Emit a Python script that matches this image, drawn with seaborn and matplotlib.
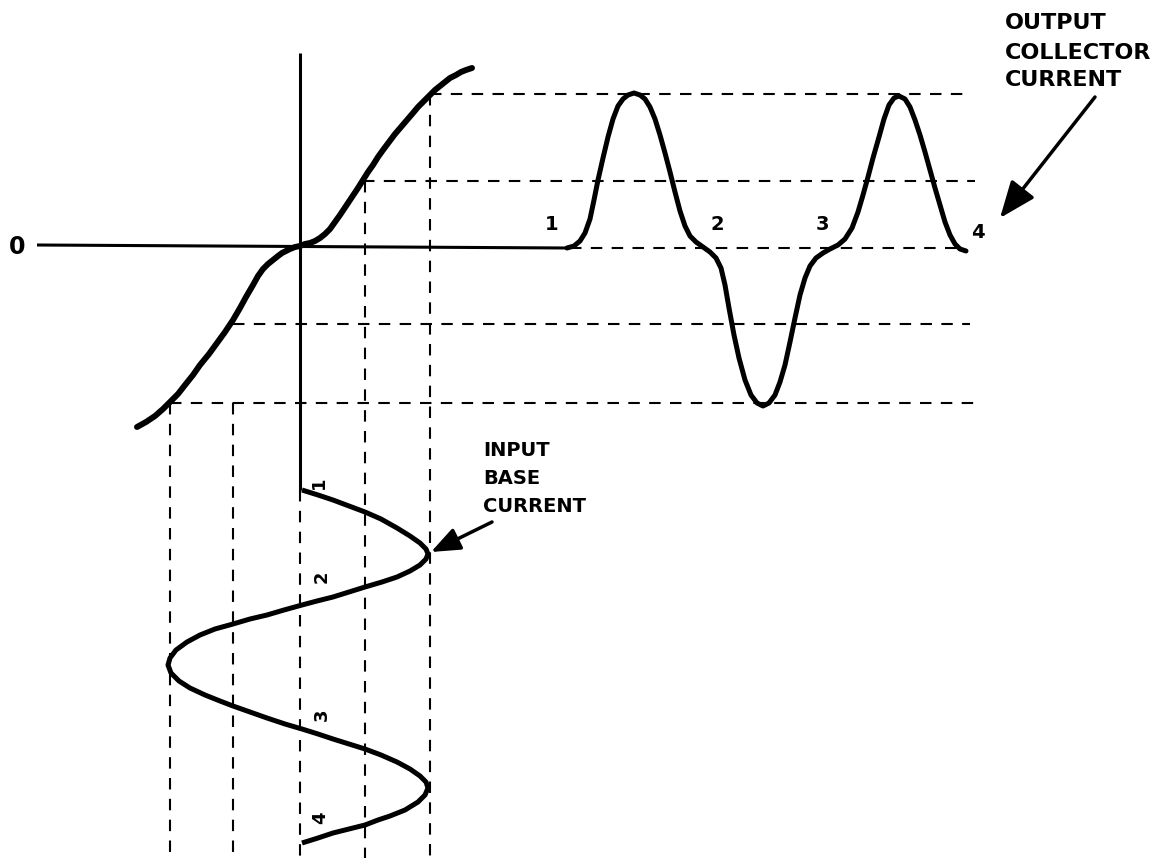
import numpy as np
import pandas as pd
import seaborn as sns
import matplotlib.pyplot as plt

# Curva de transferência (corrente de base -> corrente de coletor)
transfer_x = [137, 146, 155, 163, 170, 178, 185, 193, 200, 209, 217, 225, 233, 240, 246,
              253, 258, 263, 268, 273, 278, 282, 286, 290, 295, 300, 305, 310, 315, 320,
              325, 330, 335, 340, 346, 352, 358, 363, 368, 373, 378, 383, 389, 395, 401,
              407, 413, 418, 424, 430, 435, 440, 445, 450, 456, 461, 466, 472]
transfer_y = [427, 422, 416, 409, 402, 394, 385, 375, 365, 354, 343, 332, 320, 308, 297,
              285, 276, 269, 264, 260, 256, 253, 251, 249, 247, 246, 244, 243, 241, 238,
              234, 229, 222, 215, 206, 197, 188, 180, 172, 165, 157, 150, 142, 134, 127,
              120, 113, 107, 101, 95, 90, 86, 82, 78, 75, 72, 70, 68]

# Corrente de coletor na saída
output_x = [567, 574, 580, 585, 590, 594, 598, 603, 608, 613, 618, 623, 628, 634, 640,
            645, 650, 655, 660, 665, 670, 675, 680, 685, 690, 696, 703, 710, 716, 721,
            725, 729, 734, 739, 745, 751, 757, 763, 769, 775, 780, 785, 790, 795, 800,
            805, 810, 816, 823, 830, 838, 845, 852, 858, 863, 868, 873, 879, 884, 889,
            894, 899, 905, 910, 915, 920, 925, 930, 935, 940, 945, 950, 955, 960, 966]
output_y = [248, 246, 241, 233, 219, 200, 180, 158, 137, 119, 106, 99, 95, 93, 95,
            99, 107, 119, 135, 153, 172, 192, 211, 226, 236, 242, 247, 252, 258, 268,
            285, 308, 335, 358, 380, 395, 403, 406, 403, 395, 382, 365, 342, 318, 295,
            278, 266, 258, 253, 249, 245, 239, 228, 212, 195, 177, 158, 137, 119, 105,
            98, 96, 99, 107, 120, 135, 152, 170, 188, 205, 222, 235, 244, 249, 251]

# Corrente de base na entrada (desenhada para baixo)
input_x = [302, 318, 333, 349, 365, 381, 397, 410, 420, 426, 428, 426, 420, 410, 397,
           382, 365, 349, 333, 317, 302, 284, 267, 250, 233, 215, 200, 187, 176, 170,
           168, 171, 179, 190, 205, 220, 233, 250, 267, 285, 302, 318, 333, 349, 365,
           381, 397, 410, 420, 426, 428, 425, 418, 405, 390, 378, 365, 349, 333, 318, 302]
input_y = [490, 495, 500, 506, 512, 519, 528, 536, 543, 549, 554, 559, 565, 571, 577,
           582, 587, 592, 597, 601, 605, 610, 615, 619, 624, 629, 635, 642, 650, 658,
           665, 673, 681, 688, 695, 701, 706, 712, 718, 724, 729, 734, 739, 744, 749,
           755, 762, 769, 776, 782, 788, 795, 802, 810, 816, 820, 825, 829, 833, 838, 843]

# Linhas de projeção tracejadas
h_levels = [94, 181, 248, 324, 403]
h_starts = [430, 363, 570, 233, 170]
h_ends = [965, 975, 965, 970, 975]
v_levels = [170, 233, 300, 365, 430]
v_starts = [403, 403, 490, 181, 94]
v_bottom = 858

# Rótulos das fases
out_phase = ['1', '2', '3', '4']
out_phase_x = [552, 717, 822, 978]
out_phase_y = [225, 225, 225, 232]
in_phase_x = [319, 322, 322, 320]
in_phase_y = [483, 577, 715, 818]

out_label = ['OUTPUT', 'COLLECTOR', 'CURRENT']
out_label_y = [23, 53, 80]
in_label = ['INPUT', 'BASE', 'CURRENT']
in_label_y = [450, 478, 506]

fig = plt.figure(figsize=(11.6, 8.61), dpi=100)
ax = fig.add_axes([0, 0, 1, 1])

dash = (0, (5.5, 4.5))
for y, x0, x1 in zip(h_levels, h_starts, h_ends):
    ax.plot([x0, x1], [y, y], color='black', lw=1.5, linestyle=dash)
for x, y0 in zip(v_levels, v_starts):
    ax.plot([x, x], [y0, v_bottom], color='black', lw=1.5, linestyle=dash)

# eixos sólidos
ax.plot([37, 567], [245, 248], color='black', lw=2.2, solid_capstyle='butt')
ax.plot([300, 300], [53, 490], color='black', lw=2.2, solid_capstyle='butt')

curva = pd.DataFrame({'x': transfer_x, 'y': transfer_y})
sns.lineplot(data=curva, x='x', y='y', sort=False, estimator=None, color='black',
             lw=4.3, ax=ax, solid_capstyle='round', solid_joinstyle='round')
saida = pd.DataFrame({'x': output_x, 'y': output_y})
sns.lineplot(data=saida, x='x', y='y', sort=False, estimator=None, color='black',
             lw=3.6, ax=ax, solid_capstyle='round', solid_joinstyle='round')
entrada = pd.DataFrame({'x': input_x, 'y': input_y})
sns.lineplot(data=entrada, x='x', y='y', sort=False, estimator=None, color='black',
             lw=3.6, ax=ax, solid_capstyle='butt', solid_joinstyle='round')
ax.set_xlim(0, 1160)
ax.set_ylim(861, 0)
ax.axis('off')

fonte = 'DejaVu Sans'
ax.text(17, 247, '0', fontsize=17, fontweight='bold', ha='center', va='center', family=fonte)
for t, x, y in zip(out_phase, out_phase_x, out_phase_y):
    ax.text(x, y, t, fontsize=14, fontweight='bold', ha='center', va='center', family=fonte)
for t, x, y in zip(out_phase, in_phase_x, in_phase_y):
    ax.text(x, y, t, fontsize=13, fontweight='bold', ha='center', va='center',
            rotation=90, family=fonte)
for t, y in zip(out_label, out_label_y):
    ax.text(1005, y, t, fontsize=16, fontweight='bold', ha='left', va='center', family=fonte)
for t, y in zip(in_label, in_label_y):
    ax.text(483, y, t, fontsize=14, fontweight='bold', ha='left', va='center', family=fonte)

ax.annotate('', xy=(1000, 218), xytext=(1095, 97),
            arrowprops=dict(arrowstyle='-|>,head_length=0.5,head_width=0.2',
                            mutation_scale=45, lw=2.5, color='black', shrinkA=0, shrinkB=0))
ax.annotate('', xy=(431, 552), xytext=(492, 522),
            arrowprops=dict(arrowstyle='-|>,head_length=0.5,head_width=0.2',
                            mutation_scale=35, lw=2.5, color='black', shrinkA=0, shrinkB=0))

fig.savefig('out.png', dpi=100)
